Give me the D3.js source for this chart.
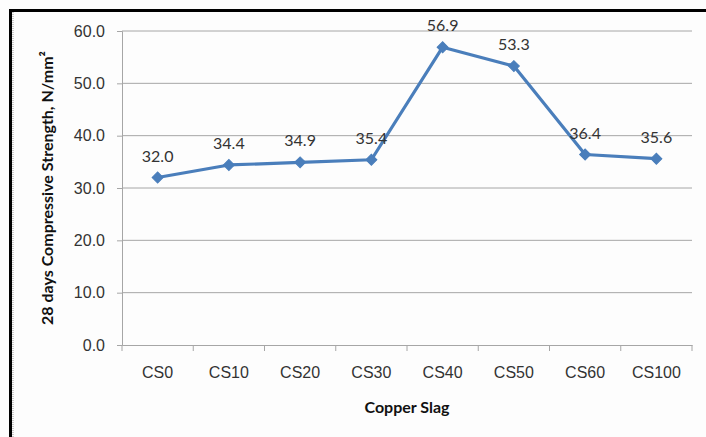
<!DOCTYPE html>
<html>
<head>
<meta charset="utf-8">
<script src="https://cdn.jsdelivr.net/npm/d3@7"></script>
<style>
  html, body { margin: 0; padding: 0; background: #fdfdfd; }
  svg { display: block; font-family: Lato, "Open Sans", sans-serif; }
</style>
</head>
<body>
<svg id="chart" width="706" height="437"></svg>
<script>
// Copper slag replacement levels and 28-day compressive strength (N/mm²)
const categories = ["CS0", "CS10", "CS20", "CS30", "CS40", "CS50", "CS60", "CS100"];
const strength = [32.0, 34.4, 34.9, 35.4, 56.9, 53.3, 36.4, 35.6];
const yTicks = [0, 10, 20, 30, 40, 50, 60];

const svg = d3.select("#chart");
const W = 706, H = 437;
const plot = { left: 122, right: 692, top: 31, bottom: 345 };

svg.append("rect").attr("width", W).attr("height", H).attr("fill", "#fdfdfd");

const x = d3.scaleBand().domain(categories).range([plot.left, plot.right]);
const y = d3.scaleLinear().domain([0, 60]).range([plot.bottom, plot.top]);

// horizontal gridlines
svg.append("g")
  .selectAll("line")
  .data(yTicks.filter(t => t > 0))
  .join("line")
  .attr("x1", plot.left).attr("x2", plot.right)
  .attr("y1", d => y(d)).attr("y2", d => y(d))
  .attr("stroke", "#a6a6a6").attr("stroke-width", 1);

// y axis
const yAxis = svg.append("g")
  .attr("transform", `translate(${plot.left},0)`)
  .call(d3.axisLeft(y).tickValues(yTicks).tickFormat(d3.format(".1f")).tickSize(5).tickPadding(12));
yAxis.select(".domain").attr("stroke", "#a6a6a6");
yAxis.selectAll(".tick line").attr("stroke", "#a6a6a6");
yAxis.selectAll("text").attr("fill", "#333").attr("font-size", 16);

// x axis with ticks at category boundaries
const xAxis = svg.append("g")
  .attr("transform", `translate(0,${plot.bottom})`)
  .call(d3.axisBottom(x).tickSize(0).tickPadding(22));
xAxis.select(".domain").attr("stroke", "#a6a6a6");
xAxis.selectAll("text").attr("fill", "#333").attr("font-size", 16);
const bounds = categories.map(c => x(c)).concat([x(categories[categories.length - 1]) + x.bandwidth()]);
xAxis.selectAll(".bound")
  .data(bounds)
  .join("line")
  .attr("class", "bound")
  .attr("x1", d => d).attr("x2", d => d)
  .attr("y1", 0).attr("y2", 6)
  .attr("stroke", "#a6a6a6");

// series line
const cx = c => x(c) + x.bandwidth() / 2;
const line = d3.line().x((d, i) => cx(categories[i])).y(d => y(d));
svg.append("path")
  .datum(strength)
  .attr("d", line)
  .attr("fill", "none")
  .attr("stroke", "#4a7ebb")
  .attr("stroke-width", 3.2)
  .attr("stroke-linejoin", "round");

// diamond markers
svg.append("g")
  .selectAll("path")
  .data(strength)
  .join("path")
  .attr("d", d3.symbol(d3.symbolSquare, 60))
  .attr("transform", (d, i) => `translate(${cx(categories[i])},${y(d)}) rotate(45)`)
  .attr("fill", "#4a7ebb")
  .attr("stroke", "#4a7ebb");

// value labels
svg.append("g")
  .selectAll("text")
  .data(strength)
  .join("text")
  .attr("x", (d, i) => cx(categories[i]))
  .attr("y", d => y(d) - 16)
  .attr("text-anchor", "middle")
  .attr("font-size", 16)
  .attr("fill", "#333")
  .text(d => d3.format(".1f")(d));

// axis titles
svg.append("text")
  .attr("x", 407).attr("y", 413)
  .attr("text-anchor", "middle")
  .attr("font-size", 16).attr("font-weight", "bold").attr("fill", "#111")
  .text("Copper Slag");

svg.append("text")
  .attr("transform", "translate(53,188) rotate(-90)")
  .attr("text-anchor", "middle")
  .attr("font-size", 16).attr("font-weight", "bold").attr("fill", "#111")
  .text("28 days Compressive Strength, N/mm²");

// frame: heavy top and left edges
svg.append("rect").attr("x", 9).attr("y", 9).attr("width", W - 9).attr("height", 3).attr("fill", "#000");
svg.append("rect").attr("x", 9).attr("y", 9).attr("width", 3).attr("height", H - 9).attr("fill", "#000");
svg.append("line")
  .attr("x1", 13).attr("x2", 13).attr("y1", 12).attr("y2", H)
  .attr("stroke", "#999").attr("stroke-width", 1).attr("stroke-dasharray", "1,1");
</script>
</body>
</html>
